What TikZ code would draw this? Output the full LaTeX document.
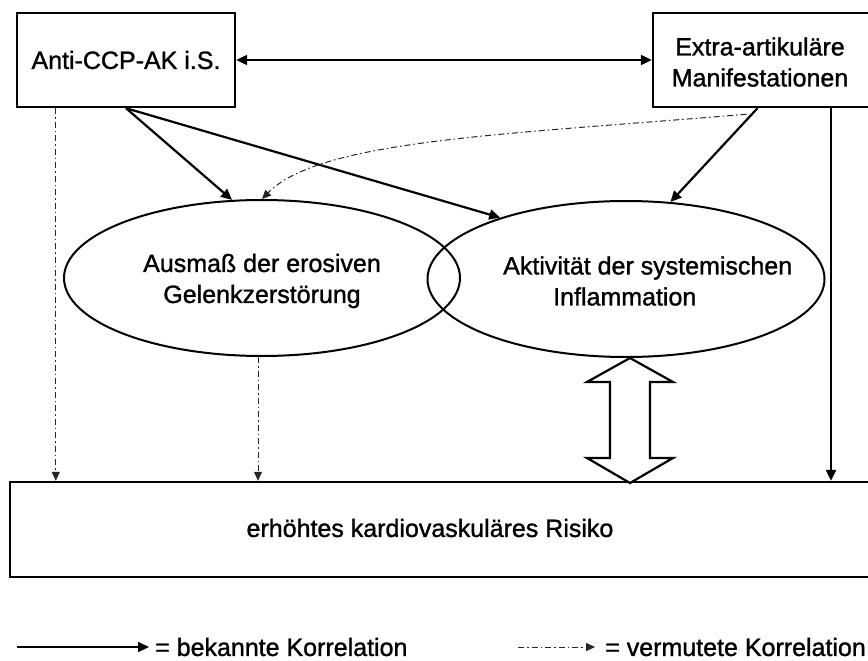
\documentclass[tikz,border=0pt]{standalone}
\usepackage{fontspec}
\setmainfont{Liberation Sans}[FakeBold=1.2]
\usetikzlibrary{arrows.meta,calc,shapes.geometric}
\begin{document}
\begin{tikzpicture}[x=1pt,y=-1pt,
  every node/.style={font=\fontsize{25}{31}\selectfont},
  boxshape/.style={draw,line width=2.4pt,rectangle,inner sep=0pt},
  ell/.style={draw,line width=2pt,ellipse,inner sep=0pt},
  txt/.style={inner sep=0pt,align=center},
  known/.style={line width=2.2pt,-{Triangle[length=11pt,width=10pt]}},
  knownboth/.style={line width=2.2pt,{Triangle[length=11pt,width=10pt]}-{Triangle[length=11pt,width=10pt]}},
  guess/.style={line width=1pt,black!85,dash pattern=on 6pt off 3pt on 1.5pt off 3pt,-{Triangle[length=9pt,width=8pt]}},
]
\useasboundingbox (0,0) rectangle (868,661);
\fill[white] (0,0) rectangle (868,661);

\node[boxshape,minimum width=218pt,minimum height=94pt] (anti) at (126,60) {Anti-CCP-AK i.S.};
\node[boxshape,minimum width=227pt,minimum height=94pt] (extra) at (766.5,60) {};
\node[txt] (extratxt) at (760,62) {Extra-artikuläre\\Manifestationen};
\node[boxshape,minimum width=870pt,minimum height=95pt] (risk) at (445,529.5) {};
\node[txt] (risktxt) at (430,528) {erhöhtes kardiovaskuläres Risiko};
\node[ell,minimum width=396pt,minimum height=156pt] (left) at (262,278) {};
\node[ell,minimum width=397pt,minimum height=156pt] (right) at (626,279) {};
\node[txt] (lefttxt) at (262,281) {Ausmaß der erosiven\\Gelenkzerstörung};
\node[txt,align=left,anchor=west] (righttxt) at (503,281) {Aktivität der systemischen\\\hspace*{50pt}Inflammation};

\draw[knownboth] (anti.east) -- (extra.west);
\draw[known] (anti.south) -- (left.111);
\draw[known] (anti.south) -- (right.154);
\draw[known] ([xshift=-9pt]extra.south) -- (right.60);
\draw[guess] ([xshift=-20pt,yshift=-6pt]extra.south) .. controls (500,135) and (320,140) .. (left.north);

\coordinate (a1) at ([xshift=40pt]anti.south west);
\draw[guess] (a1) -- (a1 |- risk.north);
\coordinate (a2) at ([xshift=-4pt]left.south);
\draw[guess] (a2) -- (a2 |- risk.north);
\coordinate (e1) at ([xshift=64.5pt]extra.south);
\draw[known] (e1) -- (e1 |- risk.north);

\coordinate (bt) at (630,358);
\coordinate (bb) at (630,483);
\draw[line width=2.2pt,fill=white,line join=miter] (bt) -- (673,382) -- (650,382) -- (650,458) -- (673,458) -- (bb) -- (587,458) -- (610,458) -- (610,382) -- (587,382) -- cycle;

\coordinate (l1) at (17,647);
\node[anchor=west,inner sep=0pt] (k1) at (155,647) {= bekannte Korrelation};
\draw[known] (l1) -- ([xshift=-6pt]k1.west);
\coordinate (l2) at (518,647);
\node[anchor=east,inner sep=0pt] (k2) at (866,647) {= vermutete Korrelation};
\draw[guess] (l2) -- ([xshift=-10pt]k2.west);
\end{tikzpicture}
\end{document}
